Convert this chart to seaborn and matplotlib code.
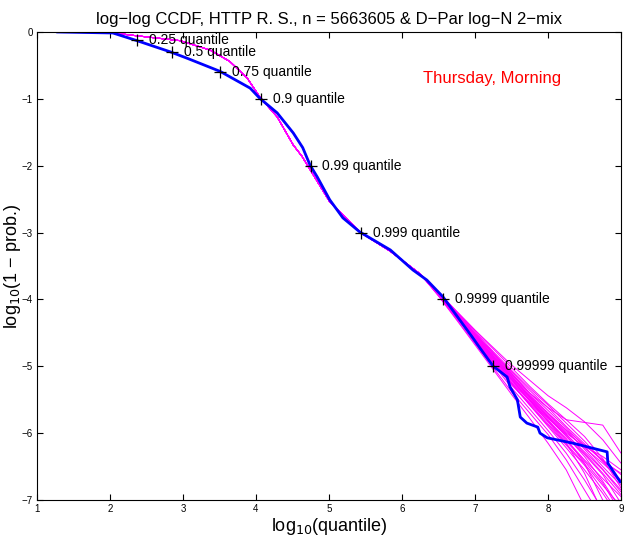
import numpy as np
import pandas as pd
import seaborn as sns
import matplotlib.pyplot as plt

emp_x = [1.27, 2.04, 2.37, 2.82, 3.05, 3.51, 3.92, 4.05, 4.29, 4.51, 4.64, 4.74, 4.84, 5.01,
         5.19, 5.42, 5.84, 6.15, 6.34, 6.56, 6.96, 7.07, 7.25, 7.44, 7.48, 7.58, 7.62, 7.71,
         7.86, 7.89, 7.99, 8.34, 8.81, 8.82, 8.99]
emp_y = [0.0, -0.015, -0.13, -0.295, -0.39, -0.59, -0.84, -0.99, -1.21, -1.51, -1.73, -1.99,
         -2.17, -2.51, -2.78, -2.99, -3.26, -3.56, -3.71, -3.96, -4.56, -4.73, -5.0, -5.16,
         -5.31, -5.50, -5.76, -5.85, -5.91, -6.00, -6.07, -6.15, -6.28, -6.45, -6.73]

# fitted mixture (magenta), shared head of all replicates
fit_x = [1.3, 2.0, 2.27, 2.96, 3.37, 3.64, 3.88, 4.05, 4.29, 4.51, 4.63, 5.01, 5.42, 5.84, 6.25]
fit_y = [0.0, -0.005, -0.045, -0.13, -0.27, -0.44, -0.69, -0.97, -1.27, -1.69, -1.86, -2.54,
         -2.99, -3.28, -3.62]

# tails of the simulated replicates
tail_x = [6.25, 6.5, 6.75, 7.0, 7.25, 7.5, 7.75, 8.0, 8.25, 8.5, 8.75, 9.0]
tails = [
    [-3.62, -3.89, -4.18, -4.46, -4.72, -4.98, -5.21, -5.44, -5.62, -5.83, -6.10, -6.45],
    [-3.62, -3.94, -4.30, -4.66, -5.02, -5.38, -5.70, -6.02, -6.40, -6.85, -7.30, -7.70],
    [-3.62, -3.90, -4.20, -4.52, -4.80, -5.10, -5.40, -5.62, -5.80, -5.84, -5.88, -6.30],
    [-3.62, -3.93, -4.27, -4.60, -4.95, -5.28, -5.55, -5.82, -6.08, -6.45, -7.00, -7.40],
    [-3.62, -3.91, -4.22, -4.53, -4.84, -5.12, -5.42, -5.70, -5.95, -6.18, -6.40, -6.62],
    [-3.62, -3.92, -4.25, -4.58, -4.92, -5.24, -5.52, -5.78, -6.02, -6.28, -6.55, -6.88],
    [-3.62, -3.95, -4.31, -4.68, -5.05, -5.42, -5.78, -6.15, -6.55, -7.10, -7.50, -7.90],
    [-3.62, -3.90, -4.19, -4.48, -4.78, -5.06, -5.33, -5.58, -5.85, -6.12, -6.42, -6.75],
    [-3.62, -3.92, -4.24, -4.57, -4.90, -5.22, -5.50, -5.76, -6.04, -6.35, -6.72, -7.15],
    [-3.62, -3.93, -4.26, -4.60, -4.94, -5.26, -5.58, -5.90, -6.22, -6.55, -6.90, -7.30],
    [-3.62, -3.91, -4.21, -4.52, -4.82, -5.14, -5.45, -5.72, -5.98, -6.22, -6.45, -6.70],
    [-3.62, -3.92, -4.23, -4.55, -4.86, -5.16, -5.46, -5.74, -6.00, -6.20, -6.35, -6.55],
    [-3.62, -3.94, -4.28, -4.62, -4.97, -5.32, -5.64, -5.96, -6.30, -6.70, -7.15, -7.60],
    [-3.62, -3.90, -4.18, -4.46, -4.74, -5.02, -5.30, -5.56, -5.80, -6.05, -6.38, -6.82],
    [-3.62, -3.93, -4.25, -4.57, -4.89, -5.20, -5.50, -5.80, -6.10, -6.40, -6.68, -6.95],
    [-3.62, -3.91, -4.22, -4.54, -4.86, -5.18, -5.48, -5.77, -6.05, -6.32, -6.62, -7.05],
    [-3.62, -3.92, -4.24, -4.56, -4.88, -5.19, -5.51, -5.83, -6.15, -6.60, -7.20, -7.60],
    [-3.62, -3.90, -4.20, -4.50, -4.80, -5.08, -5.36, -5.62, -5.90, -6.16, -6.42, -6.60],
    [-3.62, -3.93, -4.26, -4.59, -4.92, -5.25, -5.56, -5.86, -6.16, -6.46, -6.78, -7.10],
    [-3.62, -3.92, -4.23, -4.54, -4.85, -5.15, -5.44, -5.70, -5.96, -6.24, -6.54, -6.85],
    [-3.62, -3.91, -4.21, -4.51, -4.81, -5.11, -5.40, -5.66, -5.92, -6.20, -6.50, -6.78],
    [-3.62, -3.94, -4.27, -4.60, -4.93, -5.26, -5.58, -5.88, -6.18, -6.48, -6.85, -7.25],
    [-3.62, -3.92, -4.24, -4.56, -4.88, -5.20, -5.52, -5.82, -6.12, -6.42, -6.75, -7.20],
    [-3.62, -3.91, -4.22, -4.53, -4.85, -5.16, -5.47, -5.75, -6.02, -6.30, -6.60, -6.92],
]

# quantile markers
q_levels = ['0.25', '0.5', '0.75', '0.9', '0.99', '0.999', '0.9999', '0.99999']
q_x = [2.37, 2.85, 3.51, 4.07, 4.75, 5.44, 6.56, 7.25]

sns.set_style('ticks')
plt.rcParams['font.family'] = ['Liberation Sans', 'DejaVu Sans']

fig = plt.figure(figsize=(6.29, 5.42), dpi=100)
ax = fig.add_axes([0.0588, 0.0775, 0.9285, 0.8635])

rows = []
for i, t in enumerate(tails):
    for x, y in zip(fit_x[:-1] + tail_x, fit_y[:-1] + t):
        rows.append((i, x, y))
sim = pd.DataFrame(rows, columns=['rep', 'x', 'y'])
sns.lineplot(data=sim, x='x', y='y', units='rep', estimator=None, sort=False,
             color='#ff00ff', lw=0.7, ax=ax)

emp = pd.DataFrame({'x': emp_x, 'y': emp_y})
sns.lineplot(data=emp, x='x', y='y', sort=False, color='#0000ff', lw=2, ax=ax)

q_y = [np.log10(1 - float(p)) for p in q_levels]
ax.plot(q_x, q_y, '+', color='black', ms=9, mew=0.9)
for p, x, y in zip(q_levels, q_x, q_y):
    ax.text(x + 0.16, y, p + ' quantile', fontsize=10, va='center', ha='left', color='black')

ax.text(7.23, -0.69, 'Thursday, Morning', color='red', fontsize=12, ha='center', va='center')

ax.set_xlim(1, 9)
ax.set_ylim(-7, 0)
ax.set_xticks(range(1, 10))
ax.set_yticks(range(-7, 1))
ax.set_yticklabels(['\u22127', '\u22126', '\u22125', '\u22124', '\u22123', '\u22122', '\u22121', '0'])
ax.tick_params(direction='in', labelsize=7, length=4, top=True, right=True,
               colors='black', pad=3)
for s in ax.spines.values():
    s.set_linewidth(0.8)
    s.set_color('black')
ax.set_xlabel('log$_{10}$(quantile)', fontsize=13, labelpad=1, color='black')
ax.set_ylabel('log$_{10}$(1 \u2212 prob.)', fontsize=13, color='black')
ax.yaxis.set_label_coords(-0.024, 0.5)
ax.set_title('log\u2212log CCDF, HTTP R. S., n = 5663605 & D\u2212Par log\u2212N 2\u2212mix',
             fontsize=12, pad=6, color='black')

fig.savefig('out.png', dpi=100)
